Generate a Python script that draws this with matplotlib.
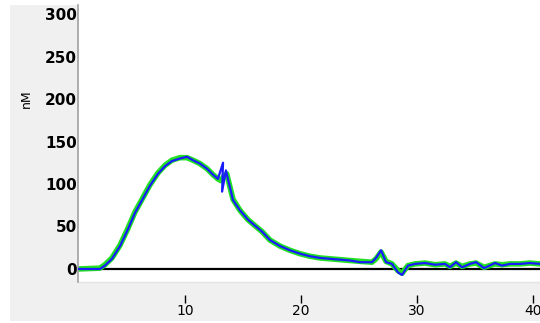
import matplotlib
matplotlib.use('Agg')
import matplotlib.pyplot as plt
from matplotlib.patches import Rectangle

# trace (time, nM)
t_blue = [0.78, 2.67, 3.10, 3.71, 4.40, 5.09, 5.69, 6.38, 6.98, 7.67, 8.28, 8.88,
          9.57, 10.17, 10.69, 11.29, 11.90, 12.41, 12.84, 13.28, 13.20, 13.53, 14.14,
          14.74, 15.43, 16.03, 16.64, 17.33, 18.19, 19.05, 19.91, 20.78, 21.64, 22.50,
          23.36, 24.22, 25.09, 26.12, 26.47, 26.90, 27.33, 27.84, 28.36, 28.71, 29.22,
          29.83, 30.69, 31.55, 32.41, 32.84, 33.36, 33.88, 34.57, 35.09, 35.78, 36.72,
          37.33, 38.02, 38.88, 39.74, 40.60]
nm_blue = [0, 0, 4, 12, 27, 47, 66, 83, 98, 112, 121, 127,
           130, 132, 128, 124, 118, 111, 106, 125, 91, 116, 81,
           69, 58, 51, 44, 34, 27, 22, 18, 15, 13, 12,
           11, 10, 8, 8, 13, 22, 8, 6, -4, -7, 4,
           6, 7, 5, 6, 2, 8, 2, 6, 8, 1, 7,
           4, 6, 6, 7, 6]

t_green = [0.78, 2.67, 3.10, 3.71, 4.40, 5.09, 5.69, 6.38, 6.98, 7.67, 8.28, 8.88,
           9.57, 10.17, 10.69, 11.29, 11.90, 12.41, 12.84, 13.10, 13.40, 13.60, 14.14,
           14.74, 15.43, 16.03, 16.64, 17.33, 18.19, 19.05, 19.91, 20.78, 21.64, 22.50,
           23.36, 24.22, 25.09, 26.12, 26.47, 26.90, 27.33, 27.84, 28.36, 28.71, 29.22,
           29.83, 30.69, 31.55, 32.41, 32.84, 33.36, 33.88, 34.57, 35.09, 35.78, 36.72,
           37.33, 38.02, 38.88, 39.74, 40.60]
nm_green = [0, 1, 5, 13, 28, 48, 67, 84, 99, 113, 122, 128,
            131, 131, 128, 124, 118, 111, 106, 104, 110, 112, 82,
            69, 58, 51, 44, 34, 27, 22, 18, 15, 13, 12,
            11, 10, 9, 8, 12, 20, 9, 6, -2, -5, 4,
            6, 7, 5, 6, 3, 7, 3, 6, 7, 2, 6,
            5, 6, 6, 7, 6]

xticks = [10, 20, 30, 40]
yticks = [0, 50, 100, 150, 200, 250, 300]

fig = plt.figure(figsize=(5.4, 3.23), dpi=100, facecolor='white')
fig.patches.append(Rectangle((10 / 540, 2 / 323), 530 / 540, 316 / 323,
                             transform=fig.transFigure, facecolor='#f0f0f0',
                             edgecolor='none', zorder=-10))

ax = fig.add_axes([78 / 540, 41 / 323, 462 / 540, 277 / 323])
ax.set_facecolor('white')

ax.axhline(0, color='black', lw=1.6, zorder=1)
ax.plot(t_green, nm_green, color='#22e022', lw=4.0, zorder=2)
ax.plot(t_blue, nm_blue, color='#1a1aff', lw=1.6, zorder=3)

ax.set_xlim(0.78, 40.6)
ax.set_ylim(-15.3, 310.6)

ax.set_xticks(xticks)
ax.set_xticklabels([str(v) for v in xticks], fontsize=11, fontweight='heavy')
ax.set_yticks(yticks)
ax.set_yticklabels([str(v) for v in yticks], fontsize=11, fontweight='heavy')

ax.tick_params(axis='y', length=0, pad=1)
ax.tick_params(axis='x', direction='out', length=6, width=1, pad=1)
ax.spines['bottom'].set_position(('outward', 9))
ax.spines['bottom'].set_visible(False)
ax.spines['top'].set_visible(False)
ax.spines['right'].set_visible(False)
ax.spines['left'].set_color('#a0a0a0')
ax.spines['left'].set_linewidth(1.2)
ax.axhline(-15.3, color='#e4e4e4', lw=1, clip_on=False)

ax.set_ylabel('nM', fontsize=9)
ax.yaxis.set_label_coords(-0.098, 0.66)

fig.savefig('out.png', dpi=100, facecolor=fig.get_facecolor())
